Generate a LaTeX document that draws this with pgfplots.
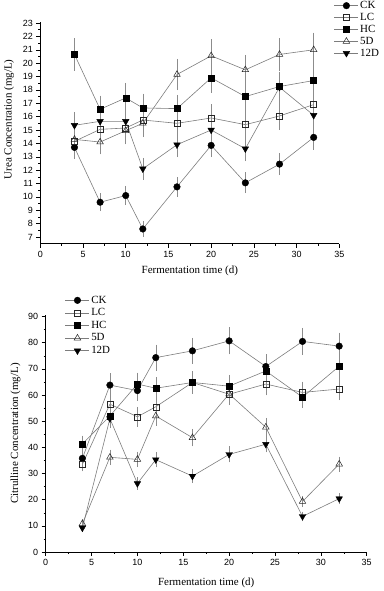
\documentclass[border=0pt]{standalone}
\usepackage{pgfplots}
\pgfplotsset{compat=1.18}
\usepackage{fontspec}
\setmainfont{Liberation Serif}
\newfontfamily\arial{Liberation Sans}
\definecolor{ln}{RGB}{125,125,125}
\definecolor{eb}{RGB}{140,140,140}
\pgfplotsset{
  orig/.style={
    scale only axis,
    axis x line*=bottom, axis y line*=left,
    axis line style={-, line width=0.6bp, black},
    tick align=outside,
    major tick length=4bp, minor tick length=2bp,
    tick style={line width=0.5bp, black},
    xmin=0, xmax=35, xtick={0,5,...,35}, minor x tick num=1,
    ticklabel style={font=\arial\fontsize{9}{10}\selectfont},
    /pgf/number format/assume math mode=true,
    label style={font=\fontsize{11}{12}\selectfont},
    every axis plot/.append style={color=ln, line width=0.6bp},
    error bars/y dir=both, error bars/y explicit,
    error bars/error bar style={color=eb, line width=0.5bp},
    error bars/error mark options={color=eb, mark size=3bp, line width=0.5bp},
    legend image code/.code={\draw[mark repeat=2,mark phase=2,#1] plot coordinates {(0bp,0bp) (12bp,0bp) (24bp,0bp)};},
    legend cell align=left,
  },
  sCK/.style={mark=*, mark size=3.3bp, mark options={draw=black, fill=black, line width=0.4bp}},
  sLC/.style={mark=square, mark size=3bp, mark options={draw=black!85, fill=white, line width=0.5bp}},
  sHC/.style={mark=square*, mark size=3bp, mark options={draw=black, fill=black, line width=0.4bp}},
  s5D/.style={mark=triangle, mark size=3.8bp, mark options={draw=black!85, fill=white, line width=0.5bp}},
  s12D/.style={mark=triangle*, mark size=3.8bp, mark options={draw=black, fill=black, rotate=180, line width=0.4bp}},
}
\begin{document}
\begin{tikzpicture}[x=1bp,y=1bp]
\path[use as bounding box] (0,0) rectangle (383,591);
% ---------- Urea ----------
\begin{axis}[orig,
  at={(40.3bp,347.3bp)}, anchor=south west,
  width=299bp, height=222bp,
  ymin=6.5, ymax=23.1, ytick={7,8,...,23}, minor y tick num=1,
  xlabel={Fermentation time (d)},
  ylabel={Urea Concentration (mg/L)},
  xlabel style={at={(axis description cs:0.5,0)}, anchor=center, yshift=-27bp},
  ylabel style={at={(axis description cs:-0.105,0.56)}, anchor=center},
  legend style={draw=none, fill=none, at={(axis description cs:0.982,1.098)}, anchor=north west,
    font=\fontsize{11}{12}\selectfont, row sep=0.8bp, inner sep=0pt,
    nodes={inner xsep=1.5bp, inner ysep=0.3bp, text height=8bp, text depth=2.5bp}},
]
\addplot[sCK] coordinates {(4,13.7)+-(0,0.65) (7,9.6)+-(0,0.45) (10,10.1)+-(0,0.5) (12,7.6)+-(0,0.35) (16,10.75)+-(0,0.5) (20,13.85)+-(0,0.65) (24,11.05)+-(0,0.55) (28,12.45)+-(0,0.6) (32,14.45)+-(0,0.7)};
\addlegendentry{CK}
\addplot[sLC] coordinates {(4,14.15)+-(0,0.7) (7,15.05)+-(0,0.7) (10,15.15)+-(0,0.8) (12,15.75)+-(0,0.45) (16,15.5)+-(0,0.85) (20,15.9)+-(0,0.8) (24,15.4)+-(0,0.75) (28,16.05)+-(0,0.8) (32,16.9)+-(0,0.85)};
\addlegendentry{LC}
\addplot[sHC] coordinates {(4,20.65)+-(0,1.0) (7,16.55)+-(0,0.8) (10,17.4)+-(0,0.9) (12,16.65)+-(0,0.85) (16,16.6)+-(0,0.8) (20,18.9)+-(0,0.9) (24,17.5)+-(0,0.9) (28,18.25)+-(0,0.9) (32,18.7)+-(0,0.9)};
\addlegendentry{HC}
\addplot[s5D] coordinates {(4,14.3)+-(0,0.55) (7,14.1)+-(0,0.7) (10,14.95)+-(0,0.8) (12,15.5)+-(0,0.8) (16,19.15)+-(0,0.95) (20,20.55)+-(0,1.0) (24,19.5)+-(0,0.9) (28,20.65)+-(0,1.0) (32,21.0)+-(0,1.05)};
\addlegendentry{5D}
\addplot[s12D] coordinates {(4,15.35)+-(0,0.75) (7,15.65)+-(0,0.7) (10,15.65)+-(0,0.8) (12,12.1)+-(0,0.6) (16,13.9)+-(0,0.7) (20,15.0)+-(0,0.75) (24,13.6)+-(0,0.7) (28,18.2)+-(0,0.9) (32,16.1)+-(0,0.8)};
\addlegendentry{12D}
\end{axis}
% ---------- Citrulline ----------
\begin{axis}[orig,
  at={(45.7bp,39bp)}, anchor=south west,
  width=321bp, height=237bp,
  ymin=0, ymax=90.6, ytick={0,10,...,90}, minor y tick num=1,
  xlabel={Fermentation time (d)},
  ylabel={Citrulline Concentration (mg/L)},
  xlabel style={at={(axis description cs:0.5,0)}, anchor=center, yshift=-31bp},
  ylabel style={at={(axis description cs:-0.094,0.5)}, anchor=center},
  legend style={draw=none, fill=none, at={(axis description cs:0.06,1.086)}, anchor=north west,
    font=\fontsize{11}{12}\selectfont, row sep=1.5bp, inner sep=0pt,
    nodes={inner xsep=1.5bp, inner ysep=0.3bp, text height=8bp, text depth=2.5bp}},
]
\addplot[sCK] coordinates {(4,35.8)+-(0,2.0) (7,63.8)+-(0,3.3) (10,61.7)+-(0,2.7) (12,74.3)+-(0,3.8) (16,76.9)+-(0,3.8) (20,80.7)+-(0,4.0) (24,70.9)+-(0,3.5) (28,80.5)+-(0,4.0) (32,78.7)+-(0,4.0)};
\addlegendentry{CK}
\addplot[sLC] coordinates {(4,33.5)+-(0,1.5) (7,56.5)+-(0,2.8) (10,51.7)+-(0,2.6) (12,55.5)+-(0,2.8) (16,64.8)+-(0,3.2) (20,60.3)+-(0,3.0) (24,64.2)+-(0,3.2) (28,61.0)+-(0,3.0) (32,62.3)+-(0,3.1)};
\addlegendentry{LC}
\addplot[sHC] coordinates {(4,41.3)+-(0,2.0) (7,52.0)+-(0,2.6) (10,64.2)+-(0,3.2) (12,62.6)+-(0,3.1) (16,64.8)+-(0,3.2) (20,63.4)+-(0,3.2) (24,69.2)+-(0,3.4) (28,59.2)+-(0,3.0) (32,71.0)+-(0,3.5)};
\addlegendentry{HC}
\addplot[s5D] coordinates {(4,10.8)+-(0,0.6) (7,36.2)+-(0,1.8) (10,35.4)+-(0,1.8) (12,52.0)+-(0,2.6) (16,43.7)+-(0,2.2) (20,60.4)+-(0,3.0) (24,47.7)+-(0,2.4) (28,19.3)+-(0,1.0) (32,33.6)+-(0,1.7)};
\addlegendentry{5D}
\addplot[s12D] coordinates {(4,9.2)+-(0,0.5) (7,51.0)+-(0,2.5) (10,26.2)+-(0,1.3) (12,35.3)+-(0,1.8) (16,29.0)+-(0,1.5) (20,37.3)+-(0,1.9) (24,41.2)+-(0,2.0) (28,13.6)+-(0,0.7) (32,20.4)+-(0,1.0)};
\addlegendentry{12D}
\end{axis}
\end{tikzpicture}
\end{document}
